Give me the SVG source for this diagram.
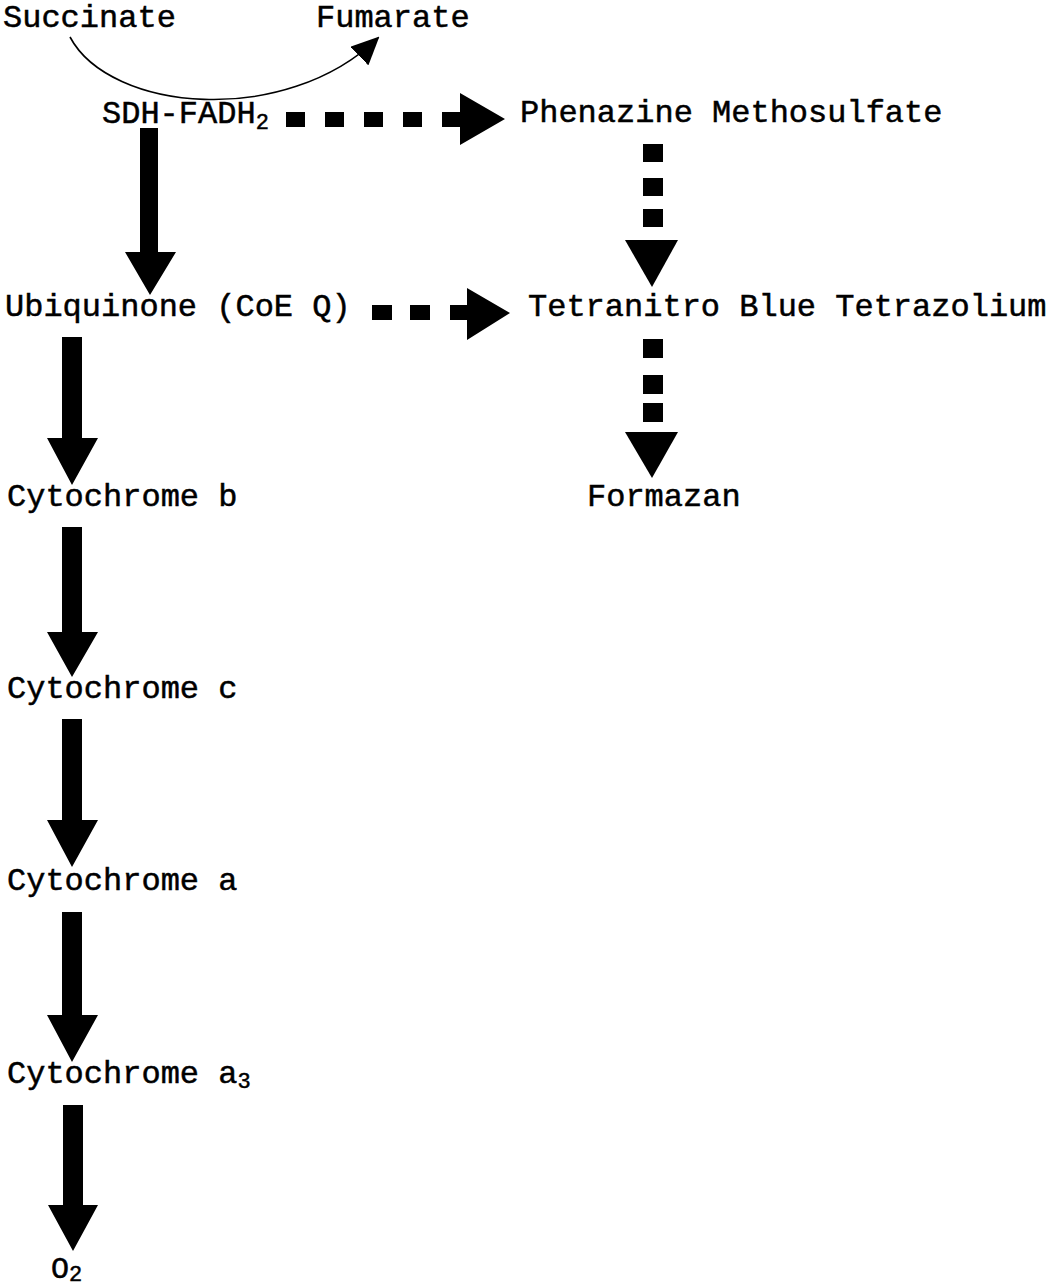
<svg xmlns="http://www.w3.org/2000/svg" width="1057" height="1286" viewBox="0 0 1057 1286">
<defs>
<style>
text{font-family:"Liberation Mono","Courier New",monospace;font-size:32px;fill:#000;stroke:#000;stroke-width:0.5}
.sub{font-size:22px}
.arr{fill:#000}
</style>
<marker id="ah" markerUnits="userSpaceOnUse" markerWidth="28" markerHeight="26" refX="26" refY="13" orient="auto">
<path d="M0,0 L28,13 L0,26 z" fill="#000"/>
</marker>
</defs>
<rect width="1057" height="1286" fill="#fff"/>
<g id="nodes">
<g id="succinate"><text x="3" y="27">Succinate</text></g>
<g id="fumarate"><text x="316" y="27">Fumarate</text></g>
<g id="sdh"><text x="102" y="123">SDH-FADH<tspan class="sub" dy="6">2</tspan></text></g>
<g id="pms"><text x="520" y="122">Phenazine Methosulfate</text></g>
<g id="ubiquinone"><text x="5" y="316">Ubiquinone (CoE Q)</text></g>
<g id="tbt"><text x="528" y="316">Tetranitro Blue Tetrazolium</text></g>
<g id="cytb"><text x="7" y="506">Cytochrome b</text></g>
<g id="formazan"><text x="587" y="506">Formazan</text></g>
<g id="cytc"><text x="7" y="698">Cytochrome c</text></g>
<g id="cyta"><text x="7" y="890">Cytochrome a</text></g>
<g id="cyta3"><text x="7" y="1083">Cytochrome a<tspan class="sub" dy="5">3</tspan></text></g>
<g id="o2"><text x="51" y="1278" style="font-size:30px">O<tspan class="sub" dy="3">2</tspan></text></g>
</g>
<g id="connectors">
<path d="M70,37 C110,112 285,128 378,38" fill="none" stroke="#000" stroke-width="1.6" marker-end="url(#ah)"/>
<path class="arr" d="M140,128 H158 V252 H176 L150,295 L125,252 H140 z"/>
<path class="arr" d="M62,337 H82 V438 H98 L72,485 L47,438 H62 z"/>
<path class="arr" d="M62,527 H82 V632 H98 L72,677 L47,632 H62 z"/>
<path class="arr" d="M62,719 H82 V820 H98 L72,867 L47,820 H62 z"/>
<path class="arr" d="M62,912 H82 V1015 H98 L72,1062 L47,1015 H62 z"/>
<path class="arr" d="M63,1105 H83 V1205 H98 L73,1251 L48,1205 H63 z"/>
<g class="arr">
<rect x="286" y="112" width="19" height="15"/>
<rect x="325" y="112" width="19" height="15"/>
<rect x="364" y="112" width="19" height="15"/>
<rect x="403" y="112" width="19" height="15"/>
<path d="M442,112 H460 V93 L505,119 L460,145 V127 H442 z"/>
</g>
<g class="arr">
<rect x="372" y="305" width="20" height="15"/>
<rect x="410" y="305" width="20" height="15"/>
<path d="M450,305 H467 V288 L510,313 L467,340 V320 H450 z"/>
</g>
<g class="arr">
<rect x="643" y="144" width="20" height="18"/>
<rect x="643" y="178" width="20" height="18"/>
<rect x="643" y="209" width="20" height="18"/>
<path d="M625,240 H678 L652,287 z"/>
</g>
<g class="arr">
<rect x="643" y="339" width="20" height="19"/>
<rect x="643" y="375" width="20" height="19"/>
<rect x="643" y="403" width="20" height="19"/>
<path d="M625,432 H678 L652,478 z"/>
</g>
</g>
</svg>
